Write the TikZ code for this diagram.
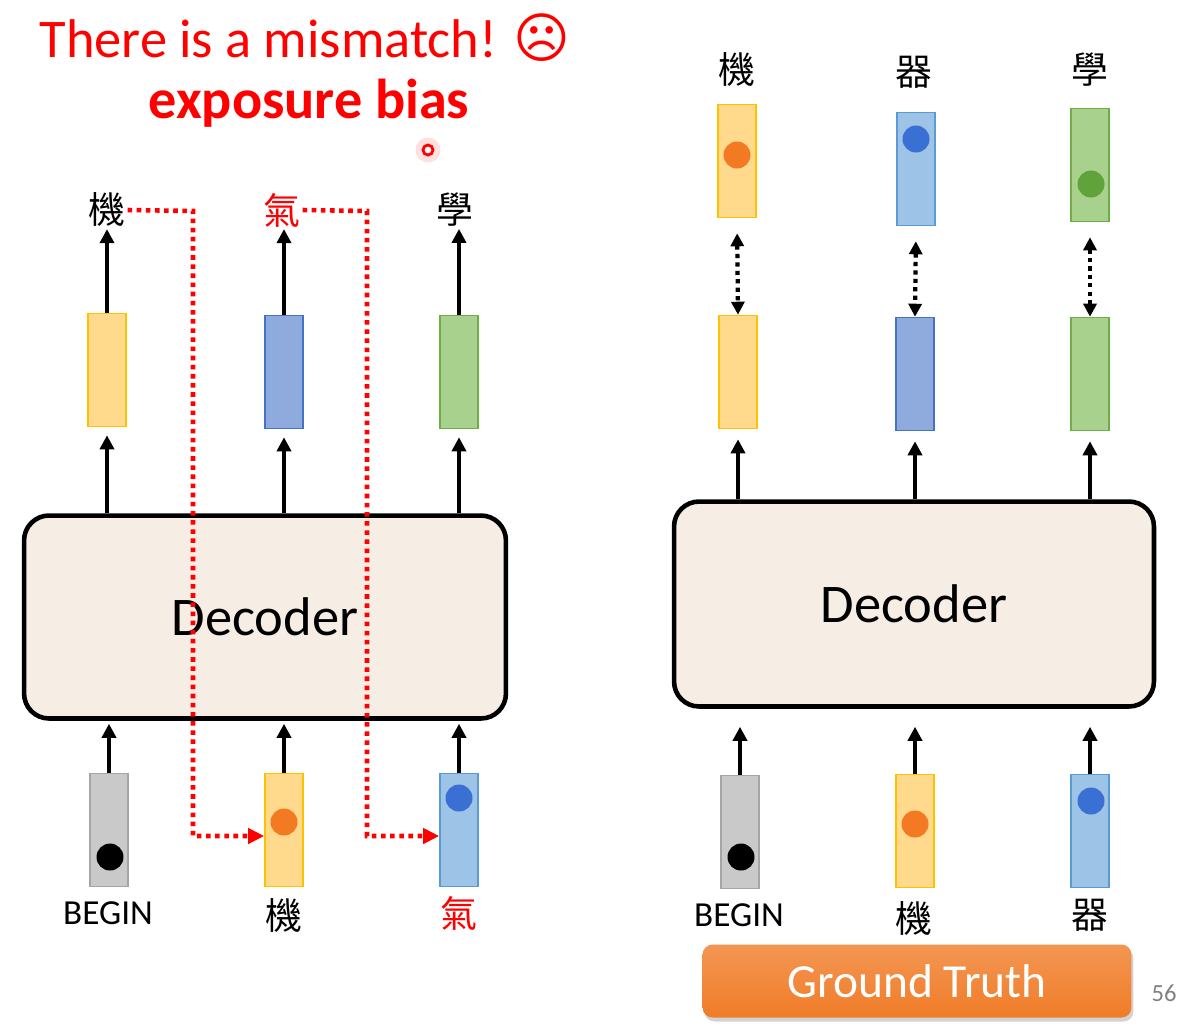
\documentclass[tikz,border=0pt]{standalone}
\usepackage{fontspec}
\setmainfont{Carlito}
\newfontfamily\cjk{Noto Sans CJK TC}
\newfontfamily\symb{DejaVu Sans}
\usetikzlibrary{arrows.meta,shadows}
\definecolor{yelfill}{HTML}{FFD98C}
\definecolor{yelline}{HTML}{FFC000}
\definecolor{bluefill}{HTML}{8FAADC}
\definecolor{blueline}{HTML}{4472C4}
\definecolor{skyfill}{HTML}{9DC3E6}
\definecolor{skyline}{HTML}{5B9BD5}
\definecolor{greenfill}{HTML}{A9D18E}
\definecolor{greenline}{HTML}{70AD47}
\definecolor{grayfill}{HTML}{C9C9C9}
\definecolor{grayline}{HTML}{A5A5A5}
\definecolor{decfill}{HTML}{F6EDE4}
\definecolor{orangedot}{HTML}{F37A22}
\definecolor{bluedot}{HTML}{3A6FD3}
\definecolor{greendot}{HTML}{5FA33A}
\definecolor{gtorange}{HTML}{F07C28}
\begin{document}
\begin{tikzpicture}[x=0.02cm,y=-0.02cm]
		\tikzset{
			vec/.style = {draw, line width=0.9pt, minimum width=0.76cm, minimum height=2.26cm, inner sep=0pt},
			yel vec/.style = {vec, fill=yelfill, draw=yelline},
			blue vec/.style = {vec, fill=bluefill, draw=blueline},
			sky vec/.style = {vec, fill=skyfill, draw=skyline},
			green vec/.style = {vec, fill=greenfill, draw=greenline},
			gray vec/.style = {vec, fill=grayfill, draw=grayline},
			ball/.style = {circle, inner sep=0pt, minimum size=0.54cm},
			tok/.style = {font=\cjk\fontsize{21}{21}\selectfont, inner sep=1pt},
			word/.style = {font=\fontsize{20}{20}\selectfont, inner sep=1pt},
			decoder/.style = {draw, line width=2.6pt, rounded corners=0.5cm, fill=decfill, minimum width=9.64cm, minimum height=4.06cm, font=\fontsize{31}{31}\selectfont},
			feed/.style = {line width=2.2pt, -{Triangle[length=0.28cm, width=0.28cm]}},
			compare/.style = {line width=2.4pt, dash pattern=on 2.4pt off 2.4pt, {Triangle[length=0.26cm, width=0.26cm]}-{Triangle[length=0.26cm, width=0.26cm]}},
			mismatch/.style = {red, line width=2.6pt, dash pattern=on 2.6pt off 2.6pt, -{Triangle[length=0.32cm, width=0.3cm]}}
		}
		\useasboundingbox (0,0) rectangle (1179,1029);

		\node[red, font=\fontsize{31}{31}\selectfont] (title) at (305,38) {There is a mismatch! {\symb ☹}};
		\node[red, font=\bfseries\fontsize{32}{32}\selectfont] (bias) at (309,103) {exposure bias};
		\node[circle, fill=red!12, minimum size=0.5cm, inner sep=0pt] (glow) at (428,150) {};
		\node[circle, draw=red, line width=1.6pt, fill=white, minimum size=0.2cm, inner sep=0pt] (laser) at (428,150) {};

		% left: decoder fed with its own outputs
		\node[tok] (lt1) at (107,210) {機};
		\node[tok, red] (lt2) at (282,210) {氣};
		\node[tok] (lt3) at (455,210) {學};
		\node[yel vec] (lo1) at (107,370) {};
		\node[blue vec] (lo2) at (284,372) {};
		\node[green vec] (lo3) at (459,372) {};
		\node[decoder] (ldec) at (265,617) {Decoder};
		\node[gray vec] (li1) at (109,830) {};
		\node[yel vec] (li2) at (284,830) {};
		\node[sky vec] (li3) at (459,830) {};
		\node[ball, fill=black] (ld1) at (110,857) {};
		\node[ball, fill=orangedot] (ld2) at (284,822) {};
		\node[ball, fill=bluedot] (ld3) at (459,798) {};
		\node[word] (lw1) at (108,913) {BEGIN};
		\node[tok] (lw2) at (284,915) {機};
		\node[tok, red] (lw3) at (459,913) {氣};

		\foreach \i in {1,2,3} {
			\draw[feed] (lo\i.north) -- (lo\i.north |- lt\i.south);
			\draw[feed, shorten >=0.16cm] (ldec.north -| lo\i) -- (lo\i.south);
			\draw[feed, shorten >=0.06cm] (li\i.north) -- (ldec.south -| li\i);
		}
		\coordinate (turn1) at (193,211);
		\coordinate (turn2) at (367,211);
		\draw[mismatch] (lt1.east) -- (turn1) |- ([yshift=-0.12cm]li2.west);
		\draw[mismatch] (lt2.east) -- (turn2) |- ([yshift=-0.12cm]li3.west);

		% right: decoder fed with the ground truth
		\node[tok] (rt1) at (737,70) {機};
		\node[tok] (rt2) at (914,72) {器};
		\node[tok] (rt3) at (1090,70) {學};
		\node[yel vec] (rp1) at (737,161) {};
		\node[sky vec] (rp2) at (916,169) {};
		\node[green vec] (rp3) at (1090,165) {};
		\node[ball, fill=orangedot] (rpd1) at (737,155) {};
		\node[ball, fill=bluedot] (rpd2) at (916,139) {};
		\node[ball, fill=greendot] (rpd3) at (1091,184) {};
		\node[yel vec] (ro1) at (738,372) {};
		\node[blue vec] (ro2) at (915,374) {};
		\node[green vec] (ro3) at (1090,374) {};
		\node[decoder, minimum width=9.6cm, minimum height=4.1cm] (rdec) at (914,604) {Decoder};
		\node[gray vec] (ri1) at (740,832) {};
		\node[yel vec] (ri2) at (915,831) {};
		\node[sky vec] (ri3) at (1090,831) {};
		\node[ball, fill=black] (rd1) at (741,857) {};
		\node[ball, fill=orangedot] (rd2) at (915,824) {};
		\node[ball, fill=bluedot] (rd3) at (1091,801) {};
		\node[word] (rw1) at (739,915) {BEGIN};
		\node[tok] (rw2) at (914,918) {機};
		\node[tok] (rw3) at (1090,915) {器};

		\foreach \i in {1,2,3} {
			\draw[compare, shorten <=0.3cm] (rp\i.south) -- (ro\i.north);
			\draw[feed, shorten >=0.2cm] (rdec.north -| ro\i) -- (ro\i.south);
			\draw[feed, shorten >=0.36cm] (ri\i.north) -- (rdec.south -| ri\i);
		}

		\node[rounded corners=0.2cm, top color=gtorange!80!white, bottom color=gtorange, drop shadow={opacity=0.35, shadow xshift=0.04cm, shadow yshift=-0.08cm}, minimum width=8.58cm, minimum height=1.46cm, text=white, font=\fontsize{27}{27}\selectfont] (gt) at (917,981) {Ground Truth};
		\node[anchor=east, gray, font=\fontsize{14}{14}\selectfont, inner sep=0pt] (page) at (1177,993) {56};
	\end{tikzpicture}
\end{document}
